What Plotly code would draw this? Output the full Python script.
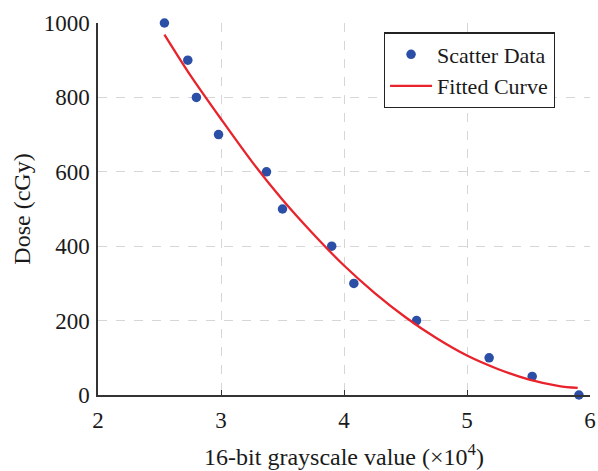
import plotly.graph_objects as go

# Scatter data (x in units of 10^4 grayscale value, dose in cGy)
scatter_x = [2.54, 2.73, 2.80, 2.98, 3.37, 3.50, 3.90, 4.08, 4.59, 5.18, 5.53, 5.91]
scatter_y = [1000, 900, 800, 700, 600, 500, 400, 300, 200, 100, 50, 0]

# Fitted curve samples
curve_x = [2.54, 2.75, 3.00, 3.25, 3.50, 3.75, 4.00, 4.25, 4.50, 4.75, 5.00, 5.25, 5.50, 5.75, 5.90]
curve_y = [969, 860, 742, 628, 525, 433, 348, 274, 209, 153, 106, 70, 42, 24, 19]

x_ticks = [2, 3, 4, 5, 6]
y_ticks = [0, 200, 400, 600, 800, 1000]

FONT = "Liberation Serif, Times New Roman, serif"
TXT = "#1a1a1a"

fig = go.Figure()
fig.add_trace(go.Scatter(
    x=scatter_x, y=scatter_y, mode="markers", name="Scatter Data",
    marker=dict(color="#2B4EA6", size=9.5), cliponaxis=False,
))
fig.add_trace(go.Scatter(
    x=curve_x, y=curve_y, mode="lines", name="Fitted Curve",
    line=dict(color="#E8232B", width=2.3, shape="spline", smoothing=0.8),
))

fig.update_layout(
    width=598, height=471,
    margin=dict(l=98, r=8, t=23, b=76),
    paper_bgcolor="white", plot_bgcolor="white",
    font=dict(family=FONT, size=23, color=TXT),
    showlegend=True,
    legend=dict(
        x=0.581, y=0.975, xanchor="left", yanchor="top",
        bordercolor="#222", borderwidth=1.2, bgcolor="white",
        font=dict(family=FONT, size=22, color=TXT),
        itemwidth=42, tracegroupgap=0,
    ),
)
fig.update_xaxes(
    range=[2, 6], tickvals=x_ticks, ticktext=[str(v) for v in x_ticks],
    showgrid=True, gridcolor="#D6D6D6", griddash="dash", gridwidth=1,
    showline=True, linecolor="#333", linewidth=1.5, mirror=False,
    ticks="inside", ticklen=5, tickcolor="#333",
    zeroline=False, automargin=False,
    tickfont=dict(family=FONT, size=23, color=TXT),
    ticklabelstandoff=4,
    title=dict(text="16-bit grayscale value (×10<sup>4</sup>)", standoff=16,
               font=dict(family=FONT, size=24, color=TXT)),
)
fig.update_yaxes(
    range=[0, 1000], tickvals=y_ticks, ticktext=[str(v) for v in y_ticks],
    showgrid=True, gridcolor="#D6D6D6", griddash="dash", gridwidth=1,
    showline=True, linecolor="#333", linewidth=1.5, mirror=False,
    ticks="", zeroline=False, automargin=False,
    tickfont=dict(family=FONT, size=23, color=TXT),
    ticklabelstandoff=2,
    title=dict(text="Dose (cGy)", standoff=6,
               font=dict(family=FONT, size=24, color=TXT)),
)

fig.write_html("out.html")
